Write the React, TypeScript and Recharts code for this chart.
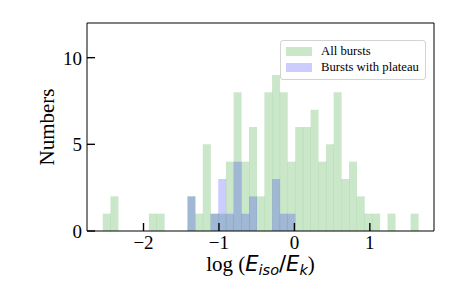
import { Bar, ComposedChart, Label, Legend, XAxis, YAxis } from 'recharts'

// histogram bins (centres of log(Eiso/Ek) bins, width ~0.102)
const binCenters = [
  -2.489, -2.387, -2.285, -2.183, -2.081, -1.979, -1.877, -1.775, -1.673, -1.571,
  -1.469, -1.367, -1.265, -1.163, -1.061, -0.959, -0.857, -0.755, -0.653, -0.551,
  -0.449, -0.347, -0.245, -0.143, -0.041, 0.061, 0.163, 0.265, 0.367, 0.469,
  0.571, 0.673, 0.775, 0.877, 0.979, 1.081, 1.183, 1.285, 1.387, 1.489, 1.591,
]
const allBursts = [
  1, 2, 0, 0, 0, 0, 1, 1, 0, 0, 0, 2, 1, 5, 1, 1, 4, 8, 4, 6, 2,
  8, 9, 8, 4, 6, 6, 7, 4, 5, 8, 3, 4, 2, 1, 1, 0, 1, 0, 0, 1,
]
const plateauBursts = [
  0, 0, 0, 0, 0, 0, 0, 0, 0, 0, 0, 2, 0, 0, 1, 3, 1, 4, 1, 2, 0,
  0, 3, 1, 1, 0, 0, 0, 0, 0, 0, 0, 0, 0, 0, 0, 0, 0, 0, 0, 0,
]
const xTicks = [-2, -1, 0, 1]
const yTicks = [0, 5, 10]
const xDomain = [-2.749, 1.85]
const yDomain = [0, 12]

const series = [
  { key: 'all', name: 'All bursts', fill: '#2ca02c', opacity: 0.25, axis: 'main' },
  { key: 'plateau', name: 'Bursts with plateau', fill: '#0000ff', opacity: 0.2, axis: 'overlay' },
]

const rows = binCenters.map((x, i) => ({ x, all: allBursts[i], plateau: plateauBursts[i] }))

const SERIF = 'Liberation Serif, Times New Roman, serif'
const MATH = 'DejaVu Sans, sans-serif'

function XTick({ x, y, payload }: any) {
  const v = payload.value
  const label = v < 0 ? `\u2212${Math.abs(v)}` : `${v}`
  return (
    <g>
      <line x1={x} x2={x} y1={y} y2={y - 8} stroke="#000" strokeWidth={1.4} />
      <text x={x} y={y + 18} textAnchor="middle" fontFamily={SERIF} fontSize={19} fill="#000">
        {label}
      </text>
    </g>
  )
}

function YTick({ x, y, payload }: any) {
  return (
    <g>
      <line x1={x} x2={x + 8} y1={y} y2={y} stroke="#000" strokeWidth={1.4} />
      <text x={x - 5} y={y + 7} textAnchor="end" fontFamily={SERIF} fontSize={19} fill="#000">
        {payload.value}
      </text>
    </g>
  )
}

function XLabel({ viewBox }: any) {
  const cx = viewBox.x + viewBox.width / 2
  const y = viewBox.y + 40
  return (
    <text x={cx} y={y} textAnchor="middle" fontFamily={SERIF} fontSize={21} fill="#000">
      {'log ('}
      <tspan fontFamily={MATH} fontStyle="italic">E</tspan>
      <tspan fontFamily={MATH} fontStyle="italic" fontSize={14.5} dy={4}>iso</tspan>
      <tspan fontFamily={MATH} dy={-4}>/</tspan>
      <tspan fontFamily={MATH} fontStyle="italic">E</tspan>
      <tspan fontFamily={MATH} fontStyle="italic" fontSize={14.5} dy={4}>k</tspan>
      <tspan dy={-4}>)</tspan>
    </text>
  )
}

function YLabel({ viewBox }: any) {
  const x = viewBox.x + 45.5
  const y = viewBox.y + viewBox.height / 2
  return (
    <text
      x={x}
      y={y}
      transform={`rotate(-90 ${x} ${y})`}
      textAnchor="middle"
      fontFamily={SERIF}
      fontSize={21}
      fill="#000"
    >
      Numbers
    </text>
  )
}

function LegendBox({ payload }: any) {
  return (
    <div
      style={{
        border: '1px solid #d3d3d3',
        borderRadius: 3,
        background: 'rgba(255,255,255,0.8)',
        padding: '2px 6px 4px 5px',
        fontFamily: SERIF,
        fontSize: 12.7,
        color: '#000',
      }}
    >
      {(payload || []).map((p: any) => {
        const s = series.find((d) => d.key === p.dataKey) || series[0]
        return (
          <div key={s.key} style={{ display: 'flex', alignItems: 'center', height: 16 }}>
            <span
              style={{
                display: 'inline-block',
                width: 26,
                height: 9,
                background: s.fill,
                opacity: s.opacity,
                marginRight: 9,
              }}
            />
            <span>{s.name}</span>
          </div>
        )
      })}
    </div>
  )
}

export default function App() {
  return (
    <ComposedChart
      width={440}
      height={290}
      data={rows}
      margin={{ top: 14, right: 13, left: 0, bottom: 0 }}
      barCategoryGap={0}
      barGap={0}
    >
      {series.map((s) => (
        <Bar
          key={s.key}
          dataKey={s.key}
          name={s.name}
          xAxisId={s.axis}
          yAxisId="left"
          fill={s.fill}
          fillOpacity={s.opacity}
          isAnimationActive={false}
        />
      ))}
      <XAxis
        xAxisId="overlay"
        dataKey="x"
        type="number"
        domain={xDomain}
        allowDataOverflow
        hide
      />
      <XAxis
        xAxisId="main"
        dataKey="x"
        type="number"
        domain={xDomain}
        allowDataOverflow
        ticks={xTicks}
        interval={0}
        height={67}
        tickSize={0}
        tickMargin={0}
        tick={<XTick />}
        axisLine={{ stroke: '#000', strokeWidth: 1 }}
      >
        <Label content={<XLabel />} />
      </XAxis>
      <XAxis
        xAxisId="top"
        orientation="top"
        type="number"
        domain={xDomain}
        allowDataOverflow
        height={1}
        tick={false}
        tickLine={false}
        axisLine={{ stroke: '#000', strokeWidth: 1 }}
      />
      <YAxis
        yAxisId="left"
        type="number"
        domain={yDomain}
        allowDataOverflow
        ticks={yTicks}
        interval={0}
        width={79}
        tickSize={0}
        tickMargin={0}
        tick={<YTick />}
        axisLine={{ stroke: '#000', strokeWidth: 1 }}
      >
        <Label content={<YLabel />} />
      </YAxis>
      <YAxis
        yAxisId="right"
        orientation="right"
        type="number"
        domain={yDomain}
        width={1}
        tick={false}
        tickLine={false}
        axisLine={{ stroke: '#000', strokeWidth: 1 }}
      />
      <Legend
        layout="vertical"
        align="center"
        verticalAlign="middle"
        content={<LegendBox />}
        wrapperStyle={{ left: 272, top: 32, width: 'auto' }}
      />
    </ComposedChart>
  )
}
